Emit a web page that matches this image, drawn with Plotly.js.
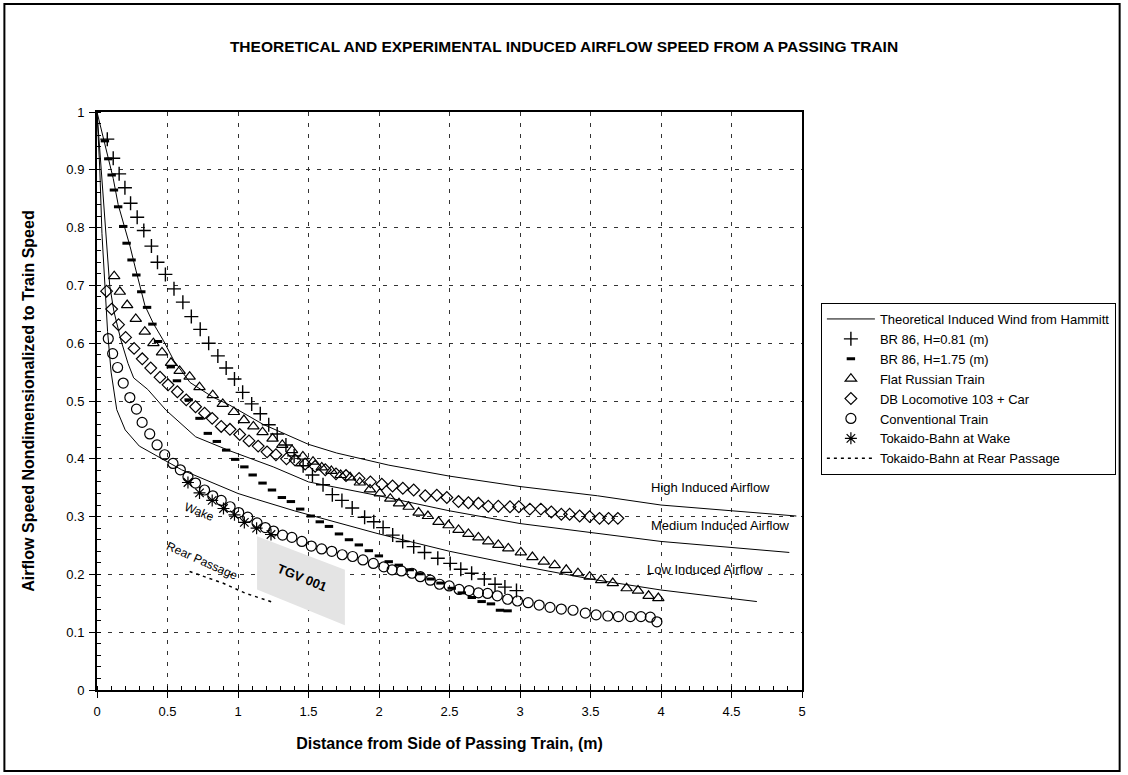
<!DOCTYPE html>
<html>
<head>
<meta charset="utf-8">
<script src="https://cdn.plot.ly/plotly-3.0.1.min.js"></script>
<style>html,body{margin:0;padding:0;background:#fff}#chart{width:1128px;height:775px}</style>
</head>
<body>
<div id="chart"></div>
<script>
// Theoretical induced wind (Hammitt) — three curves
const hammittHighX = [0, 0.045, 0.085, 0.115, 0.15, 0.2, 0.235, 0.27, 0.305, 0.34, 0.40, 0.47, 0.545, 0.66, 0.82, 0.94, 1.175, 1.32, 1.43, 1.5, 1.7, 2.07, 2.5, 3.0, 3.55, 4.0, 4.96];
const hammittHighY = [1, 0.954, 0.917, 0.885, 0.84, 0.799, 0.767, 0.732, 0.70, 0.665, 0.634, 0.605, 0.57, 0.532, 0.507, 0.493, 0.46, 0.444, 0.432, 0.425, 0.41, 0.389, 0.37, 0.352, 0.336, 0.32, 0.301];
const hammittMedX = [0, 0.03, 0.06, 0.09, 0.12, 0.17, 0.22, 0.26, 0.36, 0.49, 0.70, 0.94, 1.25, 1.5, 2.0, 2.5, 3.0, 3.5, 4.0, 4.91];
const hammittMedY = [1, 0.9, 0.79, 0.70, 0.655, 0.605, 0.565, 0.54, 0.52, 0.484, 0.438, 0.414, 0.386, 0.36, 0.336, 0.31, 0.288, 0.272, 0.257, 0.238];
const hammittLowX = [0, 0.02, 0.035, 0.055, 0.075, 0.1, 0.14, 0.2, 0.3, 0.6, 1.0, 1.13, 1.4, 2.0, 2.5, 3.0, 3.5, 4.0, 4.68];
const hammittLowY = [1, 0.9, 0.79, 0.70, 0.62, 0.55, 0.485, 0.45, 0.422, 0.381, 0.34, 0.33, 0.31, 0.27, 0.24, 0.215, 0.192, 0.173, 0.153];

// BR 86, H=0.81 (m)
const br081X = [0.073,0.115,0.157,0.198,0.238,0.285,0.332,0.386,0.429,0.485,0.546,0.609,0.669,0.732,0.792,0.857,0.916,0.975,1.033,1.097,1.158,1.218,1.278,1.340,1.398,1.462,1.528,1.603,1.669,1.737,1.810,1.898,1.963,2.029,2.097,2.168,2.246,2.323,2.417,2.505,2.580,2.657,2.747,2.823,2.893,2.975];
const br081Y = [0.953,0.920,0.893,0.869,0.842,0.818,0.795,0.768,0.740,0.719,0.694,0.671,0.646,0.624,0.600,0.578,0.557,0.538,0.515,0.495,0.478,0.459,0.443,0.424,0.405,0.388,0.372,0.355,0.338,0.328,0.315,0.299,0.291,0.281,0.268,0.257,0.248,0.238,0.228,0.219,0.209,0.202,0.192,0.183,0.178,0.172];

// BR 86, H=1.75 (m)
const br175X = [0.056,0.080,0.104,0.120,0.150,0.186,0.210,0.245,0.279,0.314,0.355,0.393,0.433,0.523,0.567,0.650,0.727,0.786,0.850,0.916,0.980,1.045,1.104,1.174,1.241,1.311,1.375,1.441,1.516,1.580,1.645,1.716,1.787,1.857,1.928,1.999,2.069,2.140,2.218,2.288,2.366,2.436,2.516,2.587,2.658,2.728,2.794,2.858,2.912];
const br175Y = [0.950,0.919,0.891,0.865,0.836,0.802,0.773,0.744,0.718,0.689,0.662,0.633,0.603,0.559,0.535,0.502,0.470,0.444,0.430,0.415,0.399,0.386,0.372,0.358,0.346,0.333,0.326,0.313,0.301,0.291,0.283,0.270,0.260,0.251,0.241,0.232,0.222,0.216,0.208,0.201,0.192,0.185,0.176,0.168,0.160,0.153,0.149,0.138,0.137];

// Flat Russian Train
const russianX = [0.122,0.162,0.214,0.275,0.339,0.400,0.461,0.525,0.586,0.657,0.727,0.821,0.892,0.971,1.042,1.109,1.174,1.245,1.314,1.383,1.460,1.532,1.594,1.662,1.728,1.795,1.864,1.936,2.006,2.080,2.142,2.210,2.281,2.347,2.422,2.493,2.564,2.634,2.705,2.775,2.846,2.917,3.006,3.088,3.169,3.246,3.328,3.411,3.494,3.576,3.658,3.756,3.837,3.912,3.981];
const russianY = [0.716,0.689,0.666,0.642,0.620,0.600,0.584,0.566,0.552,0.542,0.524,0.510,0.495,0.481,0.467,0.456,0.446,0.435,0.424,0.415,0.404,0.395,0.385,0.379,0.372,0.368,0.359,0.347,0.340,0.331,0.323,0.317,0.307,0.301,0.291,0.285,0.277,0.270,0.264,0.257,0.251,0.245,0.238,0.230,0.222,0.216,0.208,0.202,0.196,0.190,0.185,0.176,0.172,0.163,0.159];

// DB Locomotive 103 + Car
const dbX = [0.068,0.104,0.153,0.203,0.263,0.321,0.381,0.447,0.504,0.570,0.633,0.699,0.763,0.817,0.881,0.943,1.012,1.078,1.143,1.206,1.269,1.344,1.405,1.476,1.547,1.619,1.695,1.766,1.859,1.939,2.020,2.096,2.169,2.246,2.328,2.410,2.481,2.564,2.634,2.705,2.775,2.846,2.929,2.992,3.070,3.148,3.222,3.293,3.352,3.423,3.494,3.564,3.628,3.694];
const dbY = [0.690,0.659,0.632,0.610,0.591,0.573,0.557,0.541,0.528,0.516,0.502,0.490,0.479,0.470,0.456,0.451,0.442,0.431,0.422,0.412,0.407,0.400,0.398,0.391,0.387,0.381,0.374,0.371,0.366,0.360,0.356,0.353,0.349,0.346,0.336,0.337,0.333,0.326,0.324,0.323,0.318,0.318,0.317,0.317,0.313,0.313,0.308,0.304,0.304,0.301,0.300,0.297,0.297,0.297];

// Conventional Train
const convX = [0.080,0.111,0.146,0.186,0.233,0.280,0.320,0.374,0.426,0.480,0.539,0.591,0.645,0.699,0.763,0.821,0.881,0.944,1.005,1.069,1.135,1.194,1.252,1.316,1.382,1.453,1.520,1.593,1.665,1.739,1.813,1.886,1.960,2.034,2.093,2.159,2.234,2.293,2.364,2.429,2.498,2.568,2.639,2.705,2.770,2.839,2.912,2.982,3.058,3.136,3.213,3.293,3.376,3.463,3.540,3.623,3.698,3.783,3.858,3.924,3.971];
const convY = [0.608,0.582,0.558,0.531,0.506,0.486,0.463,0.443,0.424,0.407,0.392,0.381,0.369,0.358,0.346,0.336,0.328,0.317,0.307,0.299,0.289,0.281,0.275,0.268,0.264,0.257,0.249,0.244,0.240,0.234,0.231,0.225,0.219,0.213,0.208,0.206,0.202,0.196,0.190,0.183,0.180,0.174,0.172,0.168,0.167,0.163,0.157,0.154,0.151,0.147,0.143,0.140,0.138,0.133,0.130,0.128,0.127,0.127,0.127,0.126,0.118];

// Tokaido-Bahn at Wake
const wakeX = [0.645,0.727,0.817,0.897,0.975,1.045,1.132,1.234];
const wakeY = [0.359,0.341,0.328,0.314,0.303,0.290,0.280,0.269];

// Tokaido-Bahn at Rear Passage
const rearX = [0.657,0.892,1.057,1.257];
const rearY = [0.205,0.185,0.167,0.151];

// TGV 001 measured band (parallelogram)
const tgvX = [1.135,1.758,1.758,1.135,1.135];
const tgvY = [0.266,0.208,0.112,0.174,0.266];

const FONT = 'Liberation Sans, Arial, Helvetica, sans-serif';

const traces = [
  {x: tgvX, y: tgvY, mode: 'lines', fill: 'toself', fillcolor: '#e4e4e4', line: {width: 0, color: '#e4e4e4'}, showlegend: false, hoverinfo: 'skip'},
  {x: hammittHighX, y: hammittHighY, mode: 'lines', name: 'Theoretical Induced Wind from Hammitt', legendgroup: 'th', line: {color: '#000', width: 1}},
  {x: hammittMedX, y: hammittMedY, mode: 'lines', name: 'Theoretical Induced Wind from Hammitt', legendgroup: 'th', showlegend: false, line: {color: '#000', width: 1}},
  {x: hammittLowX, y: hammittLowY, mode: 'lines', name: 'Theoretical Induced Wind from Hammitt', legendgroup: 'th', showlegend: false, line: {color: '#000', width: 1}},
  {x: br081X, y: br081Y, mode: 'markers', name: 'BR 86, H=0.81 (m)', marker: {symbol: 'cross-thin-open', size: 10, color: '#000', line: {width: 1.4, color: '#000'}}},
  {x: br175X, y: br175Y, mode: 'markers', name: 'BR 86, H=1.75 (m)', marker: {symbol: 'line-ew-open', size: 6, color: '#000', line: {width: 3, color: '#000'}}},
  {x: russianX, y: russianY, mode: 'markers', name: 'Flat Russian Train', marker: {symbol: 'triangle-up-open', size: 10, color: '#000', line: {width: 1.2, color: '#000'}}},
  {x: dbX, y: dbY, mode: 'markers', name: 'DB Locomotive 103 + Car', marker: {symbol: 'diamond-open', size: 9, color: '#000', line: {width: 1.2, color: '#000'}}},
  {x: convX, y: convY, mode: 'markers', name: 'Conventional Train', marker: {symbol: 'circle-open', size: 10, color: '#000', line: {width: 1.2, color: '#000'}}},
  {x: wakeX, y: wakeY, mode: 'markers', name: 'Tokaido-Bahn at Wake', marker: {symbol: 'asterisk-open', size: 10, color: '#000', line: {width: 1.2, color: '#000'}}},
  {x: rearX, y: rearY, mode: 'lines', name: 'Tokaido-Bahn at Rear Passage', line: {color: '#000', width: 1.5, dash: '3px,4px'}}
];

const axisCommon = {
  showline: true, linecolor: '#000', linewidth: 2, mirror: true,
  ticks: 'outside', ticklen: 6, tickwidth: 1, tickcolor: '#000',
  showgrid: true, gridcolor: '#333', gridwidth: 1, griddash: '4px,7px',
  zeroline: false, ticklabelstandoff: 2,
  tickfont: {family: FONT, size: 13, color: '#000'}
};

const layout = {
  width: 1128, height: 775,
  paper_bgcolor: '#fff', plot_bgcolor: '#fff',
  margin: {l: 97, r: 323, t: 112, b: 85},
  font: {family: FONT, color: '#000'},
  title: {text: 'THEORETICAL AND EXPERIMENTAL INDUCED AIRFLOW SPEED FROM A PASSING TRAIN',
          font: {family: FONT, size: 15.5, color: '#000', weight: 'bold'},
          x: 0.5, xref: 'container', xanchor: 'center', y: 1 - 47/775, yref: 'container', yanchor: 'middle'},
  xaxis: Object.assign({}, axisCommon, {
    range: [0, 5], dtick: 0.5, tick0: 0,
    minor: {dtick: 0.1, ticks: 'inside', ticklen: 4, tickcolor: '#000', showgrid: false},
    title: {text: 'Distance from Side of Passing Train, (m)', standoff: 20, font: {family: FONT, size: 16, color: '#000', weight: 'bold'}}
  }),
  yaxis: Object.assign({}, axisCommon, {
    range: [0, 1], dtick: 0.1, tick0: 0,
    minor: {dtick: 0.02, ticks: 'inside', ticklen: 4, tickcolor: '#000', showgrid: false},
    title: {text: 'Airflow Speed Nondimensionalized to Train Speed', standoff: 28, font: {family: FONT, size: 16, color: '#000', weight: 'bold'}}
  }),
  showlegend: true,
  legend: {
    x: 1.0268, xanchor: 'left', y: (690 - 303) / 578, yanchor: 'top',
    bgcolor: '#fff', bordercolor: '#000', borderwidth: 1,
    font: {family: FONT, size: 13, color: '#000'},
    itemwidth: 48, tracegroupgap: 0, traceorder: 'normal'
  },
  annotations: [
    {x: 4.35, y: 0.350, xref: 'x', yref: 'y', text: 'High Induced Airflow', showarrow: false, font: {family: FONT, size: 13, color: '#000'}},
    {x: 4.425, y: 0.284, xref: 'x', yref: 'y', text: 'Medium Induced Airflow', showarrow: false, font: {family: FONT, size: 13, color: '#000'}},
    {x: 4.315, y: 0.209, xref: 'x', yref: 'y', text: 'Low Induced Airflow', showarrow: false, font: {family: FONT, size: 13, color: '#000'}},
    {x: 0.727, y: 0.308, xref: 'x', yref: 'y', text: 'Wake', textangle: 22, showarrow: false, font: {family: FONT, size: 12, color: '#000'}},
    {x: 0.747, y: 0.2235, xref: 'x', yref: 'y', text: 'Rear Passage', textangle: 24, showarrow: false, font: {family: FONT, size: 12, color: '#000'}},
    {x: 1.451, y: 0.194, xref: 'x', yref: 'y', text: '<b>TGV 001</b>', textangle: 22, showarrow: false, font: {family: FONT, size: 13, color: '#000'}}
  ],
  shapes: [
    {type: 'rect', xref: 'paper', yref: 'paper', layer: 'above',
     x0: (4 - 97) / 708, x1: (1124 - 97) / 708, y0: (690 - 771) / 578, y1: (690 - 4) / 578,
     line: {color: '#000', width: 2}, fillcolor: 'rgba(0,0,0,0)'}
  ]
};

Plotly.newPlot('chart', traces, layout, {staticPlot: true, displayModeBar: false});
</script>
</body>
</html>
